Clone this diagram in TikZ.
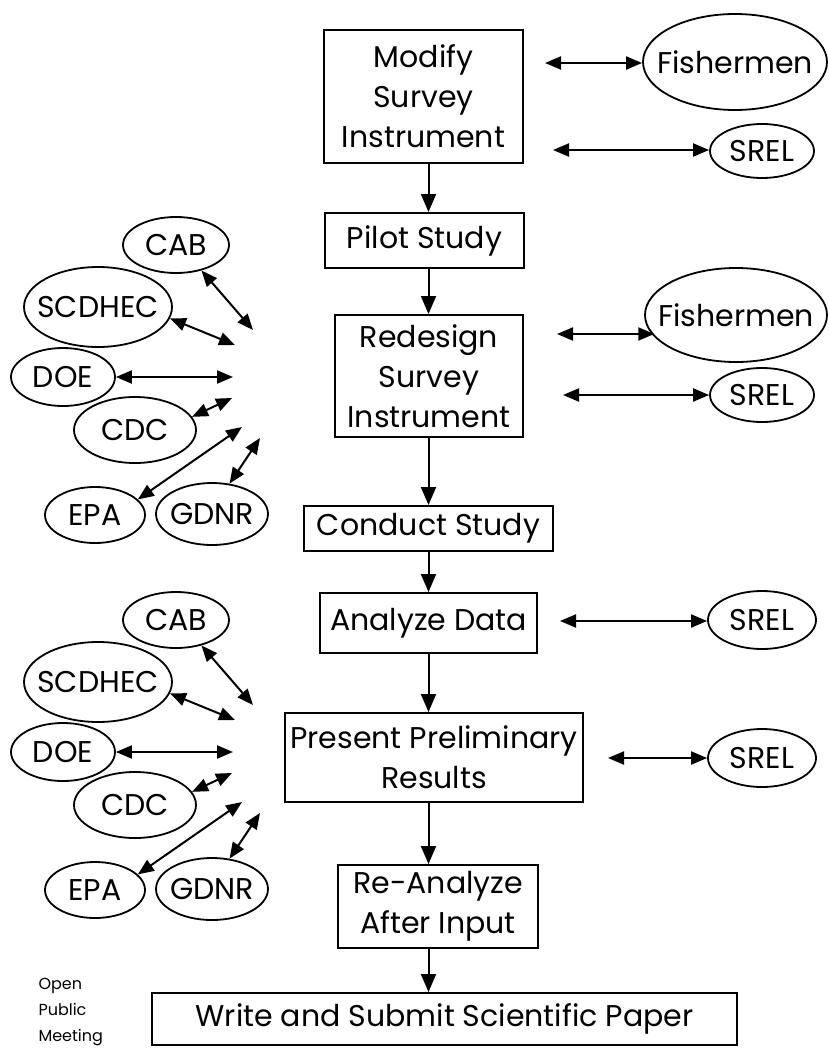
\documentclass[tikz,border=0pt]{standalone}
\usepackage{fontspec}
\setmainfont{Poppins}
\usetikzlibrary{shapes.geometric,arrows.meta}

\tikzset{
  stage/.style={draw, line width=2pt, align=center, inner sep=0pt, font=\fontsize{30}{40}\selectfont},
  org/.style={draw, ellipse, line width=1.8pt, inner sep=0pt, font=\fontsize{30}{34}\selectfont},
  link/.style={line width=2pt, {Triangle[length=16pt,width=13pt]}-{Triangle[length=16pt,width=13pt]}},
  flow/.style={line width=2pt, -{Triangle[length=18pt,width=15pt]}}
}
\newcommand{\orgname}[1]{\makebox[0pt]{#1}}

\begin{document}
\begin{tikzpicture}[x=1pt,y=-1pt]
  \useasboundingbox (0,0) rectangle (829,1051);
  % main column
  \node[stage, minimum width=199pt, minimum height=133pt] (modify) at (423.5,96.5) {Modify\\Survey\\Instrument};
  \node[stage, minimum width=199pt, minimum height=55pt] (pilot) at (424.5,240.5) {Pilot Study};
  \node[stage, minimum width=188pt, minimum height=122pt] (redesign) at (429,376) {Redesign\\Survey\\Instrument};
  \node[stage, minimum width=249pt, minimum height=45pt] (conduct) at (428.5,528.5) {Conduct Study};
  \node[stage, minimum width=217pt, minimum height=60pt] (analyze) at (428.5,623) {Analyze Data};
  \node[stage, minimum width=298pt, minimum height=89pt] (present) at (434,757.5) {Present Preliminary\\Results};
  \node[stage, minimum width=200pt, minimum height=83pt] (reanalyze) at (438,906.5) {Re-Analyze\\After Input};
  \node[stage, minimum width=585pt, minimum height=52pt] (write) at (444.5,1019) {Write and Submit Scientific Paper};
  \node[font=\fontsize{16}{26}\selectfont, align=left, anchor=west] (meeting) at (35,1012) {Open\\Public\\Meeting};

  \coordinate (axis) at (428.5,0);
  \draw[flow] (modify.south -| axis) -- (pilot.north -| axis);
  \draw[flow] (pilot.south -| axis) -- (redesign.north -| axis);
  \draw[flow] (redesign.south -| axis) -- (conduct.north -| axis);
  \draw[flow] (conduct.south -| axis) -- (analyze.north -| axis);
  \draw[flow] (analyze.south -| axis) -- (present.north -| axis);
  \draw[flow] (present.south -| axis) -- (reanalyze.north -| axis);
  \draw[flow] (reanalyze.south -| axis) -- (write.north -| axis);

  % right side
  \node[org, minimum width=184pt, minimum height=96pt] (fish1) at (735,62) {\orgname{Fishermen}};
  \node[org, minimum width=104pt, minimum height=54pt] (srel1) at (762,151) {\orgname{SREL}};
  \node[org, minimum width=182pt, minimum height=94pt] (fish2) at (736,315) {\orgname{Fishermen}};
  \node[org, minimum width=104pt, minimum height=54pt] (srel2) at (762,395) {\orgname{SREL}};
  \node[org, minimum width=108pt, minimum height=58pt] (srel3) at (762,620) {\orgname{SREL}};
  \node[org, minimum width=108pt, minimum height=58pt] (srel4) at (762,758) {\orgname{SREL}};
  \coordinate (m1) at (545,63);
  \coordinate (m2) at (553,150);
  \coordinate (m3) at (557,334);
  \coordinate (m4) at (563,395);
  \coordinate (m5) at (560,621);
  \coordinate (m6) at (608,758);
  \draw[link] (m1) -- (fish1.west |- m1);
  \draw[link] (m2) -- (srel1.west |- m2);
  \draw[link] (m3) -- (fish2.195 |- m3);
  \draw[link] (m4) -- (srel2.west |- m4);
  \draw[link] (m5) -- (srel3.west |- m5);
  \draw[link] (m6) -- (srel4.west |- m6);

  % left side, first group
  \node[org, minimum width=106pt, minimum height=56pt] (cab1) at (176,245) {\orgname{CAB}};
  \node[org, minimum width=148pt, minimum height=80pt] (scdhec1) at (98,307) {\orgname{SCDHEC}};
  \node[org, minimum width=104pt, minimum height=58pt] (doe1) at (63,377) {\orgname{DOE}};
  \node[org, minimum width=122pt, minimum height=66pt] (cdc1) at (135,430) {\orgname{CDC}};
  \node[org, minimum width=100pt, minimum height=56pt] (epa1) at (95,515) {\orgname{EPA}};
  \node[org, minimum width=112pt, minimum height=62pt] (gdnr1) at (212,514) {\orgname{GDNR}};
  \coordinate (k1) at (253,330);
  \coordinate (k2) at (235,345);
  \coordinate (k3) at (233,377);
  \coordinate (k4) at (232,398);
  \coordinate (k5) at (242,427);
  \coordinate (k6) at (260,438);
  \draw[link] (cab1.-45) -- (k1);
  \draw[link] (scdhec1.-9) -- (k2);
  \draw[link] (doe1) -- (k3);
  \draw[link] (cdc1.13) -- (k4);
  \draw[link] (epa1.20) -- (k5);
  \draw[link] (gdnr1.60) -- (k6);

  % left side, second group
  \node[org, minimum width=106pt, minimum height=56pt] (cab2) at (176,620) {\orgname{CAB}};
  \node[org, minimum width=148pt, minimum height=80pt] (scdhec2) at (98,682) {\orgname{SCDHEC}};
  \node[org, minimum width=104pt, minimum height=58pt] (doe2) at (63,752) {\orgname{DOE}};
  \node[org, minimum width=122pt, minimum height=66pt] (cdc2) at (135,805) {\orgname{CDC}};
  \node[org, minimum width=100pt, minimum height=56pt] (epa2) at (95,890) {\orgname{EPA}};
  \node[org, minimum width=112pt, minimum height=62pt] (gdnr2) at (212,889) {\orgname{GDNR}};
  \coordinate (k7) at (253,705);
  \coordinate (k8) at (235,720);
  \coordinate (k9) at (233,752);
  \coordinate (k10) at (232,773);
  \coordinate (k11) at (242,802);
  \coordinate (k12) at (260,813);
  \draw[link] (cab2.-45) -- (k7);
  \draw[link] (scdhec2.-9) -- (k8);
  \draw[link] (doe2) -- (k9);
  \draw[link] (cdc2.13) -- (k10);
  \draw[link] (epa2.20) -- (k11);
  \draw[link] (gdnr2.60) -- (k12);
\end{tikzpicture}
\end{document}
